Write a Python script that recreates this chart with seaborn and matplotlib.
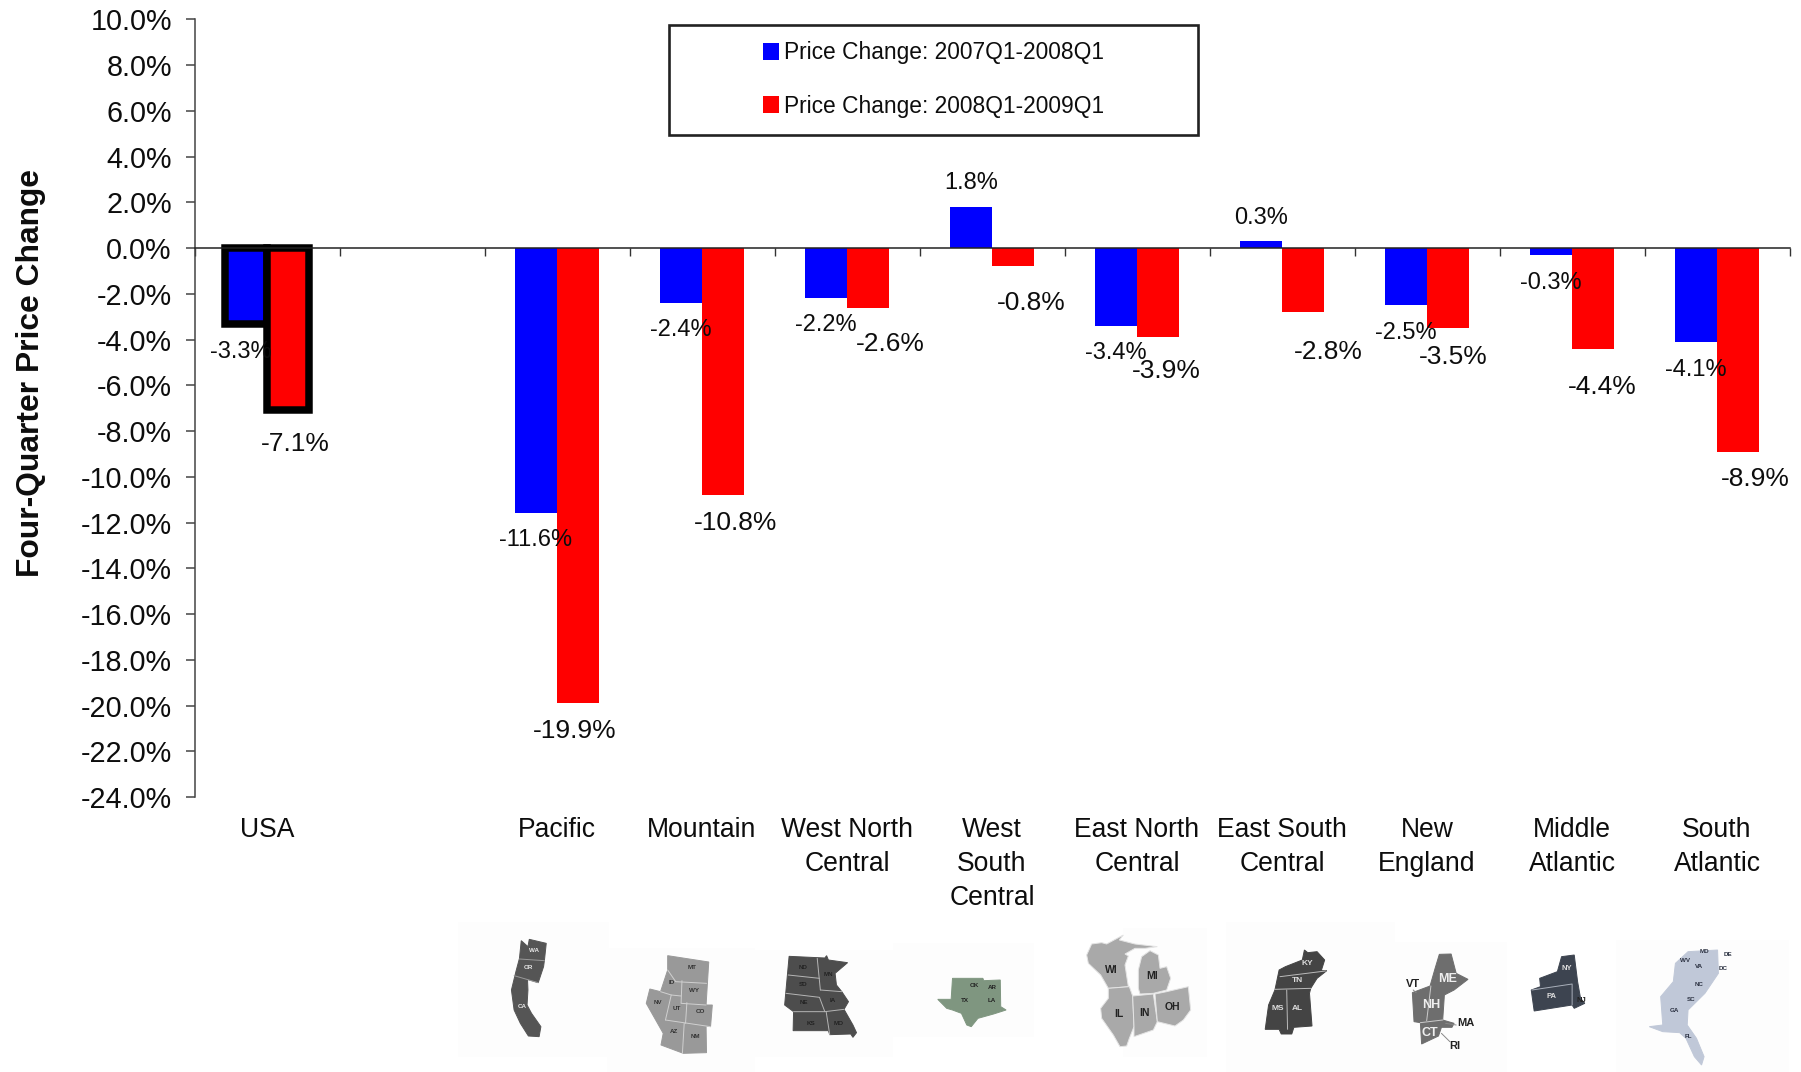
import numpy as np
import pandas as pd
import matplotlib
matplotlib.use('Agg')
import matplotlib.pyplot as plt
from matplotlib.patches import Polygon, Rectangle
import seaborn as sns

# data
regions = ['USA', 'Pacific', 'Mountain', 'West North\nCentral', 'West\nSouth\nCentral',
           'East North\nCentral', 'East South\nCentral', 'New\nEngland', 'Middle\nAtlantic', 'South\nAtlantic']
order = ['USA', ' '] + regions[1:]
change_0708 = [-3.3, -11.6, -2.4, -2.2, 1.8, -3.4, 0.3, -2.5, -0.3, -4.1]
change_0809 = [-7.1, -19.9, -10.8, -2.6, -0.8, -3.9, -2.8, -3.5, -4.4, -8.9]
period_names = ['Price Change: 2007Q1-2008Q1', 'Price Change: 2008Q1-2009Q1']
y_ticks = list(range(-24, 11, 2))

# label offsets from the bar end, in pixels
blue_dx = [-5, -1, 0, 0, 0, 0, 0, 0, 0, 0]
blue_dy = [28, 27, 27, 27, -24, 27, -23, 28, 28, 28]
red_dx = [7, -3, 13, 22, 18, 8, 25, 5, 9, 17]
red_dy = [34, 28, 28, 36, 37, 34, 40, 29, 38, 27]

W, H = 1801, 1072
DPI = 100
px = 72 / DPI

sns.set_style('white')
plt.rcParams['font.family'] = ['Liberation Sans', 'DejaVu Sans']
plt.rcParams['text.color'] = '#0d0d0d'
plt.rcParams['axes.labelcolor'] = '#0d0d0d'
plt.rcParams['xtick.labelcolor'] = '#0d0d0d'
plt.rcParams['ytick.labelcolor'] = '#0d0d0d'

df = pd.DataFrame({
    'region': regions * 2,
    'change': change_0708 + change_0809,
    'period': [period_names[0]] * 10 + [period_names[1]] * 10,
})

fig = plt.figure(figsize=(W / DPI, H / DPI), dpi=DPI)
ax = fig.add_axes([194.5 / W, 1 - 797 / H, 1595 / W, 777.7 / H])

sns.barplot(data=df, x='region', y='change', hue='period', order=order, hue_order=period_names,
            palette=['#0000ff', '#ff0000'], saturation=1, width=0.576, gap=0, linewidth=0, ax=ax)
ax.set_xlim(-0.5, 10.5)
ax.set_ylim(-24, 10)

# USA bars have the heavy black frame
for cont in ax.containers:
    bars = [b for b in cont if not np.isnan(b.get_height())]
    bars[0].set_edgecolor('black')
    bars[0].set_linewidth(7.5 * px)
    bars[0].set_joinstyle('miter')

# value labels
all_dx = [blue_dx, red_dx]
all_dy = [blue_dy, red_dy]
sizes = [17, 19]
for k, cont in enumerate(ax.containers):
    bars = [b for b in cont if not np.isnan(b.get_height())]
    vals = [change_0708, change_0809][k]
    for i, b in enumerate(bars):
        ax.annotate(f'{vals[i]:.1f}%', xy=(b.get_x() + b.get_width() / 2, vals[i]),
                    xytext=(all_dx[k][i] * px, -all_dy[k][i] * px), textcoords='offset points',
                    ha='center', va='center', fontsize=sizes[k], zorder=5)

# axes look
sns.despine(ax=ax, top=True, right=True)
ax.spines['bottom'].set_position(('data', 0))
ax.spines['bottom'].set_color('#222222')
ax.spines['left'].set_color('#444444')
ax.spines['bottom'].set_linewidth(1.1)
ax.spines['left'].set_linewidth(1.1)
ax.set_yticks(y_ticks)
ax.set_yticklabels([f'{t:.1f}%' for t in y_ticks], fontsize=20.7)
ax.tick_params(axis='y', left=True, length=9.5 * px, width=1.1, color='#444444', pad=9.5)
ax.set_xticks(range(len(order)))
ax.set_xticklabels(order, fontsize=19.1, linespacing=1.4)
ax.set_xticks(np.arange(-0.5, 10.6, 1), minor=True)
ax.tick_params(axis='x', which='major', bottom=False, length=0, pad=410)
ax.tick_params(axis='x', which='minor', bottom=True, length=8 * px, width=1.0, color='#333333')
ax.set_xlabel('')
ax.set_ylabel('Four-Quarter Price Change', fontsize=22.9, fontweight='bold', va='center')
ax.yaxis.set_label_coords((31 - 194.5) / 1595, (797 - 373) / 777.7)

# legend, the box around it is drawn below
handles, labels = ax.get_legend_handles_labels()
ax.legend(handles, labels, loc='center', bbox_to_anchor=(934 / W, 1 - 79.5 / H), bbox_transform=fig.transFigure,
          frameon=False, fontsize=16.4, labelspacing=1.33, handlelength=0.67, handleheight=0.78,
          handletextpad=0.25, borderpad=0, borderaxespad=0)

# overlay in picture pixels for the legend box and the little maps
over = fig.add_axes([0, 0, 1, 1], zorder=-1)
over.set_xlim(0, W)
over.set_ylim(H, 0)
over.axis('off')
ax.patch.set_alpha(0)
box = fig.add_axes([0, 0, 1, 1], zorder=5)
box.set_xlim(0, W)
box.set_ylim(H, 0)
box.axis('off')
box.add_patch(Rectangle((669, 25), 529, 109.5, fill=False, edgecolor='#222222', linewidth=1.9))


def z1(p):
    return (440 + p[0] / 2.24, 910 + p[1] / 3)


def z2(p):
    return (1140 + p[0] / 2.372, 910 + p[1] / 3)


def z3(p):
    return (1070 + p[0] / 3, 920 + p[1] / 3)


def draw_map(conv, color, outlines, lines, line_color, names, name_color, size, weight='bold'):
    for o in outlines:
        over.add_patch(Polygon([conv(p) for p in o], closed=True, facecolor=color, edgecolor=line_color if len(outlines) > 1 else color, linewidth=0.7))
    for l in lines:
        pts = np.array([conv(p) for p in l])
        over.plot(pts[:, 0], pts[:, 1], color=line_color, lw=0.7)
    for n, x, y in names:
        cx, cy = conv((x, y))
        over.text(cx, cy, n, color=name_color, fontsize=size, fontweight=weight, ha='center', va='center')


# faint picture backgrounds
for conv, a, b in [(z1, (40, 37), (378, 440)), (z1, (375, 115), (705, 485)), (z1, (705, 120), (1015, 440)),
                   (z1, (1015, 100), (1330, 380)), (z2, (-40, 55), (160, 440)), (z2, (205, 37), (605, 485)),
                   (z2, (605, 95), (870, 485)), (z2, (1130, 90), (1540, 485))]:
    x0, y0 = conv(a)
    x1, y1 = conv(b)
    over.add_patch(Rectangle((x0, y0), x1 - x0, y1 - y0, facecolor='#fdfdfd', edgecolor='none'))

# Pacific
draw_map(z1, '#555555',
         [[(182, 92), (197, 110), (200, 88), (238, 100), (234, 150), (232, 170), (220, 218), (196, 208), (197, 240),
           (195, 285), (205, 310), (226, 350), (222, 380), (198, 378), (180, 340), (166, 300), (160, 240), (170, 185), (178, 145)]],
         [[(178, 147), (234, 152)], [(166, 197), (220, 218)]], '#999999',
         [('WA', 210, 123), ('OR', 197, 173), ('CA', 184, 290)], '#e8e8e8', 4.5)
# Mountain
draw_map(z1, '#999999',
         [[(510, 137), (602, 156), (596, 285), (610, 285), (606, 350), (596, 348), (597, 428), (545, 430), (495, 405),
           (500, 370), (462, 280), (470, 237), (494, 245), (510, 180)]],
         [[(510, 180), (528, 215), (597, 220)], [(542, 212), (540, 280), (596, 285)], [(518, 255), (505, 330)],
          [(553, 278), (550, 340)], [(547, 340), (543, 430)], [(505, 330), (606, 350)], [(494, 245), (518, 255), (540, 258)]],
         '#d0d0d0',
         [('MT', 565, 172), ('ID', 519, 218), ('WY', 570, 240), ('NV', 487, 278), ('UT', 531, 296), ('CO', 584, 305),
          ('AZ', 524, 365), ('NM', 571, 378)], '#333333', 4.5)
# West North Central
draw_map(z1, '#4d4d4d',
         [[(782, 139), (862, 144), (866, 137), (870, 150), (913, 158), (885, 190), (888, 225), (900, 245), (915, 275),
           (905, 298), (925, 345), (933, 368), (925, 382), (920, 372), (873, 374), (870, 362), (791, 362), (792, 305), (772, 285)]],
         [[(845, 145), (852, 240)], [(780, 195), (850, 205)], [(775, 250), (850, 262), (862, 305)], [(852, 240), (900, 245)],
          [(792, 305), (862, 305), (905, 298)], [(865, 305), (873, 374)]], '#b5b5b5',
         [('ND', 814, 173), ('MN', 870, 195), ('SD', 813, 222), ('NE', 815, 278), ('IA', 880, 270), ('KS', 832, 340),
          ('MO', 893, 340)], '#222222', 4.5)
# West South Central
draw_map(z1, '#7f9680',
         [[(1148, 205), (1216, 205), (1218, 212), (1255, 210), (1256, 290), (1268, 300), (1240, 312), (1205, 325),
           (1190, 350), (1180, 345), (1168, 310), (1148, 300), (1135, 295), (1115, 268), (1145, 268)]],
         [], '#7f9680',
         [('OK', 1198, 226), ('AR', 1237, 232), ('TX', 1176, 270), ('LA', 1237, 272)], '#222222', 4.5)
# East North Central
draw_map(z3, '#a9a9a9',
         [[(50, 105), (65, 72), (95, 68), (110, 72), (160, 45), (148, 60), (195, 72), (262, 80), (225, 85), (195, 85),
           (165, 102), (175, 108), (165, 135), (175, 200), (115, 205), (92, 165), (55, 130)],
          [(115, 205), (178, 200), (188, 228), (192, 320), (178, 355), (170, 378), (150, 380), (130, 345), (95, 295), (92, 265), (115, 235)],
          [(188, 228), (250, 222), (262, 305), (250, 330), (192, 350), (192, 320)],
          [(255, 222), (290, 215), (355, 200), (362, 270), (340, 300), (315, 318), (262, 305)],
          [(205, 205), (205, 150), (215, 110), (240, 92), (265, 105), (270, 145), (290, 140), (302, 175), (290, 210), (250, 220), (210, 222)]],
         [], '#e4e4e4',
         [('WI', 125, 150), ('MI', 245, 167), ('IL', 146, 281), ('IN', 222, 279), ('OH', 307, 261)], '#222222', 7.5)
# East South Central
draw_map(z2, '#444444',
         [[(390, 120), (398, 128), (420, 125), (438, 150), (430, 182), (443, 182), (420, 205), (405, 235), (402, 250),
           (408, 348), (365, 352), (360, 372), (335, 372), (330, 358), (297, 358), (305, 285), (320, 240), (330, 180), (345, 170), (385, 150)]],
         [[(332, 200), (440, 183)], [(320, 238), (405, 235)], [(348, 240), (350, 358)]], '#bbbbbb',
         [('KY', 397, 160), ('TN', 373, 213), ('MS', 326, 297), ('AL', 374, 296)], '#dddddd', 6)
# New England
draw_map(z2, '#6e6e6e',
         [[(710, 133), (738, 132), (750, 190), (778, 208), (745, 240), (722, 255), (718, 330), (745, 340), (740, 352),
           (715, 352), (708, 378), (668, 402), (665, 338), (650, 335), (646, 248), (688, 228), (700, 175)]],
         [[(690, 228), (680, 332)], [(665, 338), (718, 330)]], '#cccccc',
         [('ME', 730, 207), ('NH', 692, 286), ('CT', 688, 370)], '#eeeeee', 9)
draw_map(z2, '#6e6e6e', [], [[(648, 240), (655, 248)], [(725, 340), (750, 345)], [(715, 370), (735, 395)]], '#888888',
         [('VT', 648, 223), ('MA', 772, 340), ('RI', 746, 407)], '#222222', 8)
# Middle Atlantic
draw_map(z2, '#3d4450',
         [[(1000, 140), (1030, 135), (1038, 215), (1045, 265), (1055, 280), (1030, 295), (1025, 285), (935, 303),
           (928, 240), (950, 230), (948, 205), (990, 185)]],
         [[(930, 240), (1025, 222), (1025, 285)]], '#aab0bb',
         [('NY', 1012, 175), ('PA', 977, 258)], '#dddddd', 5.5)
draw_map(z2, '#3d4450', [], [], '#3d4450', [('NJ', 1048, 273)], '#222222', 5.5)
# South Atlantic
draw_map(z2, '#c0c8d8',
         [[(1300, 125), (1370, 120), (1372, 190), (1340, 250), (1300, 300), (1298, 345), (1320, 385), (1338, 440),
           (1332, 465), (1315, 440), (1295, 385), (1280, 368), (1240, 365), (1208, 350), (1240, 345), (1235, 260), (1265, 215), (1270, 160)]],
         [], '#c0c8d8',
         [('MD', 1340, 124), ('DE', 1395, 134), ('WV', 1293, 152), ('VA', 1327, 168), ('DC', 1382, 175), ('NC', 1325, 222),
          ('SC', 1308, 268), ('GA', 1268, 302), ('FL', 1300, 381)], '#2a3040', 4.5)

fig.savefig('out.png', dpi=DPI)
